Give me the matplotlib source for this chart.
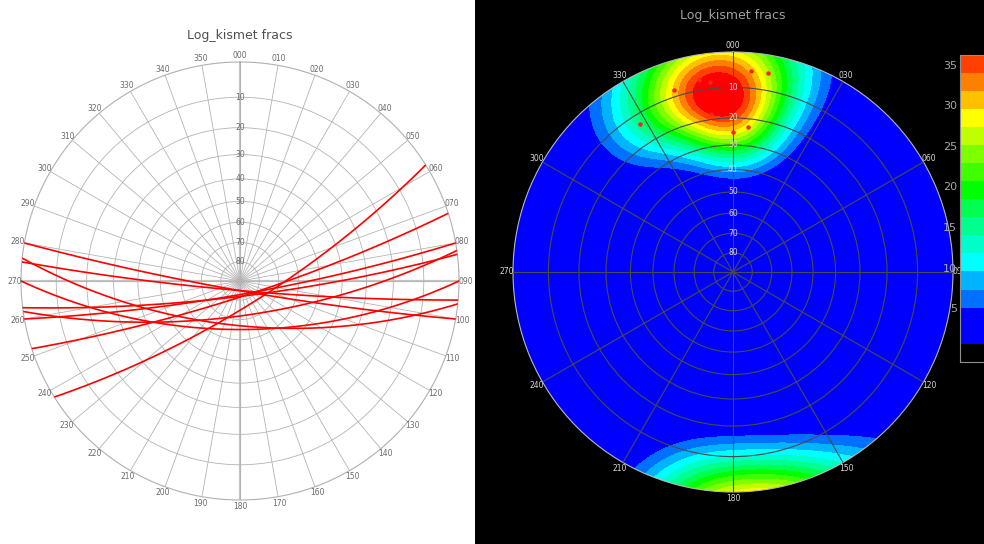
import numpy as np
import matplotlib
matplotlib.use("Agg")
import matplotlib.pyplot as plt
from matplotlib.colors import ListedColormap, BoundaryNorm
from matplotlib.patches import Rectangle
import matplotlib.cm as cm

# fracture planes (right-hand rule strike, dip)
strikes = [58, 72, 80, 82, 83, 90, 95, 96, 100]
dips = [77, 82, 83, 72, 82, 65, 85, 67, 85]

title = "Log_kismet fracs"
ring_plunges = [10, 20, 30, 40, 50, 60, 70, 80]

# contour levels / colours
levels = list(np.linspace(-1.6, 36.2, 18))
band_colors = ['#000000', '#0000ff', '#0000ff', '#0070ff', '#00b4ff', '#00ffff',
               '#00ffc8', '#00ff8c', '#00ff50', '#00ff00', '#40ff00', '#80ff00',
               '#c0ff00', '#ffff00', '#ffc000', '#ff8000', '#ff4000']
cbar_ticks = [5, 10, 15, 20, 25, 30, 35]
peak_value = 40.0
kappa = 22.0


def to_r(plunge):
    # equal-angle (Wulff) lower hemisphere
    return np.tan(np.radians(90.0 - np.asarray(plunge, float)) / 2.0)


def vec(trend, plunge):
    t, p = np.radians(trend), np.radians(plunge)
    return np.stack([np.cos(p) * np.cos(t), np.cos(p) * np.sin(t), np.sin(p)], axis=-1)


def great_circle(strike, dip, n=200):
    s, d = np.radians(strike), np.radians(dip)
    S = np.array([np.cos(s), np.sin(s), 0.0])
    D = np.array([np.cos(d) * np.cos(s + np.pi / 2), np.cos(d) * np.sin(s + np.pi / 2), np.sin(d)])
    t = np.linspace(0, np.pi, n)
    v = np.outer(np.cos(t), S) + np.outer(np.sin(t), D)
    trend = np.arctan2(v[:, 1], v[:, 0])
    plunge = np.degrees(np.arcsin(np.clip(v[:, 2], -1, 1)))
    return trend, to_r(plunge)


def setup_net(ax, step, grid_col, lab_col, lw):
    ax.set_theta_zero_location('N')
    ax.set_theta_direction(-1)
    ax.set_ylim(0, 1)
    ax.set_xticks(np.radians(np.arange(0, 360, step)))
    ax.set_yticks(to_r(ring_plunges))
    ax.set_xticklabels([])
    ax.set_yticklabels([])
    ax.grid(True, color=grid_col, lw=lw)
    for az in range(0, 360, step):
        ax.text(np.radians(az), 1.03, f"{az:03d}", ha='center', va='center',
                fontsize=5.5, color=lab_col, clip_on=False)
    for pl in ring_plunges:
        ax.text(0, to_r(pl), str(pl), ha='center', va='center', fontsize=5.5,
                color=lab_col, zorder=5)


fig = plt.figure(figsize=(9.84, 5.44), dpi=100)
fig.patches.append(Rectangle((475 / 984, 0), 1 - 475 / 984, 1, transform=fig.transFigure,
                             facecolor='black', edgecolor='none', zorder=-10))

# ---- left: great circles
ax1 = fig.add_axes([21 / 984, (544 - 281 - 219) / 544, 438 / 984, 438 / 544], projection='polar')
ax1.set_facecolor('white')
setup_net(ax1, 10, '#b4b4b4', '#6a6a6a', 0.6)
ax1.spines['polar'].set_color('#b0b0b0')
for a in (0, 90, 180, 270):
    ax1.plot([np.radians(a), np.radians(a)], [0, 1], color='#c4c4c4', lw=1.6, zorder=1)
for s, d in zip(strikes, dips):
    th, rr = great_circle(s, d)
    ax1.plot(th, rr, color='#ff0000', lw=1.2, zorder=3)
fig.text(240 / 984, 1 - 36 / 544, title, ha='center', va='center', fontsize=9, color='#505050')

# ---- right: pole density
pole_trend = (np.array(strikes) - 90) % 360
pole_plunge = 90 - np.array(dips)

ax2 = fig.add_axes([513 / 984, (544 - 272 - 220) / 544, 440 / 984, 440 / 544], projection='polar')
ax2.set_facecolor('black')
th = np.linspace(0, 2 * np.pi, 721)
rr = np.linspace(0, 1, 241)
TH, RR = np.meshgrid(th, rr)
PL = 90 - 2 * np.degrees(np.arctan(RR))
G = vec(np.degrees(TH), PL)
P = vec(pole_trend, pole_plunge)
cosang = np.abs(G @ P.T)
dens = np.exp(kappa * (cosang - 1)).sum(axis=-1)
dens = dens / dens.max() * peak_value

plot_cmap = ListedColormap(band_colors[1:])
plot_cmap.set_under('#0000ff')
plot_cmap.set_over('#ff0000')
ax2.contourf(TH, RR, dens, levels=levels[1:], cmap=plot_cmap, extend='both', zorder=1)
setup_net(ax2, 30, '#4a4a4a', '#d8d8d8', 0.8)
ax2.set_axisbelow(False)
ax2.spines['polar'].set_color('#b8b8b8')
ax2.plot(np.radians(pole_trend), to_r(pole_plunge), 'o', color='#ff2020', ms=2.2, zorder=6)
fig.text(733 / 984, 1 - 15 / 544, title, ha='center', va='center', fontsize=9, color='#a0a0a0')

# colour bar (runs off the right edge)
cax = fig.add_axes([960 / 984, (544 - 361.7) / 544, 0.04, (361.7 - 55) / 544])
sm = cm.ScalarMappable(norm=BoundaryNorm(levels, len(band_colors)), cmap=ListedColormap(band_colors))
cb = fig.colorbar(sm, cax=cax, ticks=cbar_ticks)
cb.outline.set_edgecolor('#909090')
cax.yaxis.set_ticks_position('left')
cax.tick_params(length=0, labelsize=8, labelcolor='#a8a8a8', pad=2)

fig.savefig('out.png', dpi=100, facecolor='white')
